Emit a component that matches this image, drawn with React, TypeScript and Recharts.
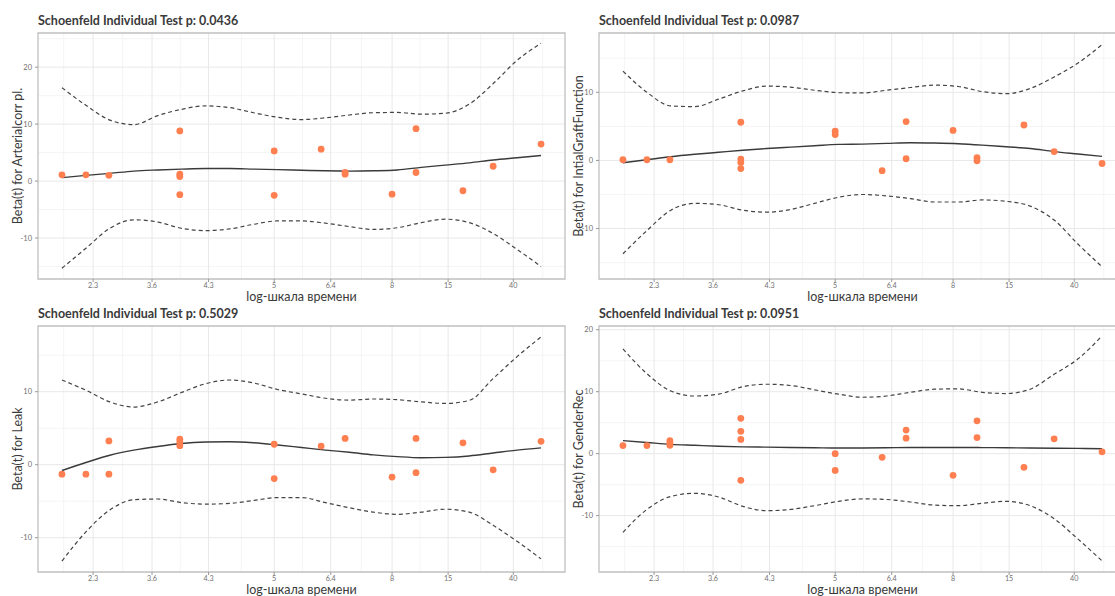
import React from "react";
import {
  ComposedChart,
  Line,
  Scatter,
  XAxis,
  YAxis,
  CartesianGrid,
  ReferenceArea,
} from "recharts";

// transformed (km) time scale, 0 = first event, 1 = last event
const curveX = [0, 0.05, 0.1, 0.15, 0.2, 0.25, 0.3, 0.35, 0.4, 0.45, 0.5, 0.55, 0.6, 0.65, 0.7, 0.75, 0.8, 0.85, 0.9, 0.95, 1];

const xTicks = [0.065, 0.188, 0.306, 0.443, 0.561, 0.689, 0.806, 0.942];
const xTickLabels = ["2.3", "3.6", "4.3", "5", "6.4", "8", "15", "40"];
const xMinor = [0.0035, 0.1265, 0.247, 0.3745, 0.502, 0.625, 0.7475, 0.874, 1.0035];
const xDomain = [-0.05, 1.05];

// Arterialcorr pl.
const arterialFit = [0.6, 1.0, 1.35, 1.75, 1.95, 2.1, 2.2, 2.2, 2.1, 2.0, 1.9, 1.8, 1.75, 1.8, 1.95, 2.4, 2.8, 3.2, 3.7, 4.1, 4.5];
const arterialUpper = [16.4, 13.3, 10.7, 9.9, 11.5, 12.6, 13.2, 12.9, 12.0, 11.2, 10.8, 11.1, 11.6, 12.0, 12.05, 11.75, 11.9, 13.5, 17.1, 21.2, 24.2];
const arterialLower = [-15.3, -11.8, -8.3, -6.8, -7.2, -8.3, -8.7, -8.4, -7.6, -7.0, -7.0, -7.4, -8.0, -8.5, -8.2, -7.3, -6.7, -7.3, -9.2, -12.0, -15.0];
const arterialPoints = [
  [0, 1.1], [0.05, 1.1], [0.098, 1.0],
  [0.246, 8.8], [0.246, 1.2], [0.246, 0.8], [0.246, -2.4],
  [0.443, 5.3], [0.443, -2.5], [0.541, 5.6], [0.591, 1.5], [0.591, 1.2],
  [0.689, -2.3], [0.739, 9.2], [0.739, 1.5], [0.837, -1.7], [0.9, 2.6], [1, 6.5],
];

// IntialGraftFunction
const graftFit = [-0.35, 0.1, 0.55, 0.9, 1.2, 1.5, 1.75, 1.95, 2.15, 2.35, 2.4, 2.5, 2.6, 2.55, 2.45, 2.25, 2.0, 1.75, 1.3, 0.95, 0.6];
const graftUpper = [13.1, 10.0, 8.0, 7.9, 9.0, 10.2, 10.9, 10.75, 10.3, 9.95, 9.9, 10.3, 10.7, 11.05, 10.85, 10.1, 9.8, 10.55, 12.25, 14.3, 17.0];
const graftLower = [-13.7, -10.3, -7.3, -6.3, -6.5, -7.3, -7.6, -7.2, -6.3, -5.4, -5.0, -5.2, -5.6, -6.1, -6.1, -5.8, -6.0, -6.7, -8.75, -12.3, -15.6];
const graftPoints = [
  [0, 0.1], [0.05, 0.1], [0.098, 0.1],
  [0.246, 5.6], [0.246, 0.2], [0.246, -0.3], [0.246, -1.2],
  [0.443, 4.3], [0.443, 3.8], [0.541, -1.5], [0.591, 5.7], [0.591, 0.25],
  [0.689, 4.4], [0.739, 0.4], [0.739, -0.05], [0.837, 5.2], [0.9, 1.3], [1, -0.45],
];

// Leak
const leakFit = [-0.8, 0.3, 1.3, 2.0, 2.5, 2.9, 3.1, 3.15, 3.0, 2.7, 2.35, 2.0, 1.7, 1.35, 1.1, 0.95, 1.0, 1.2, 1.6, 2.0, 2.3];
const leakUpper = [11.6, 10.2, 8.6, 7.9, 8.6, 9.9, 11.1, 11.6, 11.2, 10.3, 9.7, 9.1, 8.85, 9.0, 8.9, 8.6, 8.4, 8.8, 11.8, 14.8, 17.5];
const leakLower = [-13.2, -9.2, -6.2, -4.8, -4.7, -5.2, -5.4, -5.3, -4.9, -4.5, -4.5, -5.2, -5.9, -6.5, -6.8, -6.5, -6.1, -6.5, -8.3, -10.5, -12.9];
const leakPoints = [
  [0, -1.3], [0.05, -1.3], [0.098, 3.25], [0.098, -1.3],
  [0.246, 3.5], [0.246, 3.1], [0.246, 2.6],
  [0.443, 2.8], [0.443, -1.9], [0.541, 2.55], [0.591, 3.6],
  [0.689, -1.7], [0.739, 3.6], [0.739, -1.1], [0.837, 3.0], [0.9, -0.7], [1, 3.2],
];

// GenderRec
const genderFit = [2.1, 1.8, 1.5, 1.35, 1.2, 1.1, 1.05, 1.0, 0.95, 0.9, 0.92, 0.95, 1.0, 1.0, 1.0, 0.98, 0.95, 0.9, 0.88, 0.85, 0.8];
const genderUpper = [16.9, 12.9, 10.1, 9.3, 9.6, 10.8, 11.2, 11.0, 10.3, 9.6, 9.1, 9.3, 9.9, 10.4, 10.45, 9.9, 9.7, 10.4, 12.8, 15.3, 19.0];
const genderLower = [-12.7, -9.0, -6.9, -6.4, -7.0, -8.5, -9.2, -9.0, -8.4, -7.7, -7.3, -7.4, -7.8, -8.3, -8.4, -8.0, -7.7, -8.4, -10.5, -13.8, -17.3];
const genderPoints = [
  [0, 1.3], [0.05, 1.3], [0.098, 2.1], [0.098, 1.7], [0.098, 1.35],
  [0.246, 5.7], [0.246, 3.6], [0.246, 2.3], [0.246, -4.3],
  [0.443, 0], [0.443, -2.7], [0.541, -0.6], [0.591, 3.8], [0.591, 2.5],
  [0.689, -3.5], [0.739, 5.3], [0.739, 2.6], [0.837, -2.2], [0.9, 2.4], [1, 0.3],
];

const FONT = "Lato, 'Open Sans', sans-serif";
const CHART_W = 575;
const CHART_H = 306;
const PLOT_LEFT = 38;
const PLOT_TOP = 33;
const PLOT_RIGHT = 10;
const X_AXIS_H = 27;

interface PanelProps {
  left: number;
  top: number;
  title: string;
  yLabel: string;
  fit: number[];
  upper: number[];
  lower: number[];
  points: number[][];
  yDomain: [number, number];
  yTicks: number[];
  yMinor: number[];
}

function Panel({ left, top, title, yLabel, fit, upper, lower, points, yDomain, yTicks, yMinor }: PanelProps) {
  const rows = curveX.map((x, i) => ({ x, fit: fit[i], upper: upper[i], lower: lower[i] }));
  const pts = points.map(([x, y]) => ({ x, y }));
  const plotH = CHART_H - PLOT_TOP - X_AXIS_H;
  const plotW = CHART_W - PLOT_LEFT - PLOT_RIGHT;

  return (
    <div style={{ position: "absolute", left, top, width: CHART_W, height: CHART_H }}>
      {/* title */}
      <div
        style={{
          position: "absolute",
          left: PLOT_LEFT,
          top: 13,
          fontFamily: FONT,
          fontWeight: 700,
          fontSize: 12.5,
          color: "#3a3a3a",
          whiteSpace: "nowrap",
        }}
      >
        {title}
      </div>

      <ComposedChart
        width={CHART_W}
        height={CHART_H}
        data={rows}
        margin={{ top: PLOT_TOP, right: PLOT_RIGHT, bottom: 0, left: 0 }}
      >
        <CartesianGrid verticalValues={xMinor} horizontalValues={yMinor} stroke="#f3f3f3" strokeWidth={0.8} />
        <CartesianGrid verticalValues={xTicks} horizontalValues={yTicks} stroke="#e8e8e8" strokeWidth={1} />
        <XAxis
          type="number"
          dataKey="x"
          domain={xDomain}
          ticks={xTicks}
          tickFormatter={(v: number) => xTickLabels[xTicks.indexOf(v)] ?? ""}
          allowDataOverflow
          axisLine={false}
          tickSize={3}
          tickMargin={1}
          tickLine={{ stroke: "#999" }}
          tick={{ fontSize: 7.2, fill: "#707070", fontFamily: FONT }}
          height={X_AXIS_H}
          interval={0}
        />
        <YAxis
          type="number"
          domain={yDomain}
          ticks={yTicks}
          allowDataOverflow
          axisLine={false}
          tickSize={3}
          tickMargin={3}
          tickLine={{ stroke: "#999" }}
          tick={{ fontSize: 7.5, fill: "#707070", fontFamily: FONT }}
          width={PLOT_LEFT}
          interval={0}
        />
        <Line
          dataKey="upper"
          type="monotone"
          stroke="#444"
          strokeWidth={1.2}
          strokeDasharray="4 3"
          dot={false}
          isAnimationActive={false}
        />
        <Line
          dataKey="lower"
          type="monotone"
          stroke="#444"
          strokeWidth={1.2}
          strokeDasharray="4 3"
          dot={false}
          isAnimationActive={false}
        />
        <Line
          dataKey="fit"
          type="monotone"
          stroke="#3a3a3a"
          strokeWidth={1.4}
          dot={false}
          isAnimationActive={false}
        />
        <Scatter
          data={pts}
          dataKey="y"
          fill="#FF7F50"
          isAnimationActive={false}
          shape={(p: any) => <circle cx={p.cx} cy={p.cy} r={3.4} fill="#FF7F50" />}
        />
        <ReferenceArea
          x1={xDomain[0]}
          x2={xDomain[1]}
          y1={yDomain[0]}
          y2={yDomain[1]}
          fill="none"
          fillOpacity={0}
          stroke="#c0c0c0"
          strokeWidth={1.3}
        />
      </ComposedChart>

      {/* y axis title */}
      <div
        style={{
          position: "absolute",
          left: 17,
          top: PLOT_TOP + plotH / 2,
          transform: "translate(-50%, -50%) rotate(-90deg)",
          fontFamily: FONT,
          fontSize: 12.5,
          color: "#3a3a3a",
          whiteSpace: "nowrap",
        }}
      >
        {yLabel}
      </div>

      {/* x axis title */}
      <div
        style={{
          position: "absolute",
          left: PLOT_LEFT + plotW / 2,
          top: 295.5,
          transform: "translate(-50%, -50%)",
          fontFamily: FONT,
          fontSize: 12.5,
          lineHeight: 0.88,
          color: "#3a3a3a",
          whiteSpace: "nowrap",
        }}
      >
        log-шкала времени
      </div>
    </div>
  );
}

export default function App() {
  return (
    <div
      style={{
        position: "fixed",
        left: 0,
        top: 0,
        width: 1115,
        height: 596,
        overflow: "hidden",
        background: "#fff",
      }}
    >
      <Panel
        left={0}
        top={0}
        title="Schoenfeld Individual Test p: 0.0436"
        yLabel="Beta(t) for Arterialcorr pl."
        fit={arterialFit}
        upper={arterialUpper}
        lower={arterialLower}
        points={arterialPoints}
        yDomain={[-17.2, 26.0]}
        yTicks={[-10, 0, 10, 20]}
        yMinor={[-15, -5, 5, 15, 25]}
      />
      <Panel
        left={561}
        top={0}
        title="Schoenfeld Individual Test p: 0.0987"
        yLabel="Beta(t) for IntialGraftFunction"
        fit={graftFit}
        upper={graftUpper}
        lower={graftLower}
        points={graftPoints}
        yDomain={[-17.4, 18.7]}
        yTicks={[-10, 0, 10]}
        yMinor={[-15, -5, 5, 15]}
      />
      <Panel
        left={0}
        top={293}
        title="Schoenfeld Individual Test p: 0.5029"
        yLabel="Beta(t) for Leak"
        fit={leakFit}
        upper={leakUpper}
        lower={leakLower}
        points={leakPoints}
        yDomain={[-14.7, 19.0]}
        yTicks={[-10, 0, 10]}
        yMinor={[-5, 5, 15]}
      />
      <Panel
        left={561}
        top={293}
        title="Schoenfeld Individual Test p: 0.0951"
        yLabel="Beta(t) for GenderRec"
        fit={genderFit}
        upper={genderUpper}
        lower={genderLower}
        points={genderPoints}
        yDomain={[-19.1, 20.6]}
        yTicks={[-10, 0, 10, 20]}
        yMinor={[-15, -5, 5, 15]}
      />
    </div>
  );
}
